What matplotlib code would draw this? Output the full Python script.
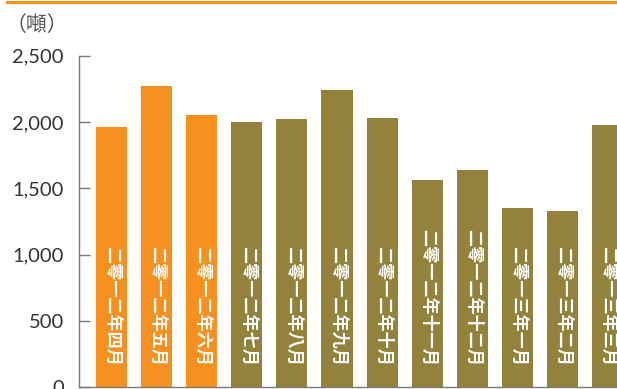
import matplotlib
matplotlib.use("Agg")
import matplotlib.pyplot as plt
from matplotlib.lines import Line2D

# 數據
months = ["二零一二年四月", "二零一二年五月", "二零一二年六月", "二零一二年七月",
          "二零一二年八月", "二零一二年九月", "二零一二年十月", "二零一二年十一月",
          "二零一二年十二月", "二零一三年一月", "二零一三年二月", "二零一三年三月"]
tonnes = [1960, 2270, 2050, 2000, 2025, 2240, 2030, 1565, 1635, 1355, 1330, 1975]
highlight = [True, True, True] + [False] * 9
yticks = [0, 500, 1000, 1500, 2000, 2500]
ytick_labels = ["0", "500", "1,000", "1,500", "2,000", "2,500"]

orange = "#F7901E"
olive = "#93823B"
grey = "#7a7a7a"

fig = plt.figure(figsize=(6.17, 3.89), dpi=100)
ax = fig.add_axes([79 / 617, 1.7 / 389, 1 - 79 / 617, 331.6 / 389])

x = list(range(len(months)))
colors = [orange if h else olive for h in highlight]
ax.bar(x, tonnes, width=0.69, color=colors, zorder=2)

for xi, lab in zip(x, months):
    ax.text(xi + 0.02, 160, lab, rotation=270, ha="center", va="bottom",
            color="white", fontsize=12.3, fontweight="bold",
            family=["Noto Sans CJK TC", "DejaVu Sans"], zorder=3)

ax.set_xlim(-0.722, 11.21)
ax.set_ylim(0, 2500)
ax.set_yticks(yticks)
ax.set_yticklabels(ytick_labels, family="Lato", fontsize=14.5, color="#333333")
ax.set_xticks([])
ax.tick_params(axis="y", direction="in", length=8, width=1, color=grey, pad=11)

for s in ["top", "right"]:
    ax.spines[s].set_visible(False)
ax.spines["left"].set_color(grey)
ax.spines["bottom"].set_color(grey)
ax.spines["left"].set_linewidth(1)
ax.spines["bottom"].set_linewidth(1)

# 單位
fig.text(6 / 617, 1 - 25 / 389, "（噸）", ha="left", va="center", fontsize=15,
         color="#555555", fontweight="light",
         family=["Noto Sans CJK TC", "DejaVu Sans"])

# 頂部橙色線
fig.add_artist(Line2D([7 / 617, 1], [1 - 1.5 / 389, 1 - 1.5 / 389],
                      transform=fig.transFigure, color=orange, linewidth=2.2))

fig.savefig("out.png", dpi=100)
